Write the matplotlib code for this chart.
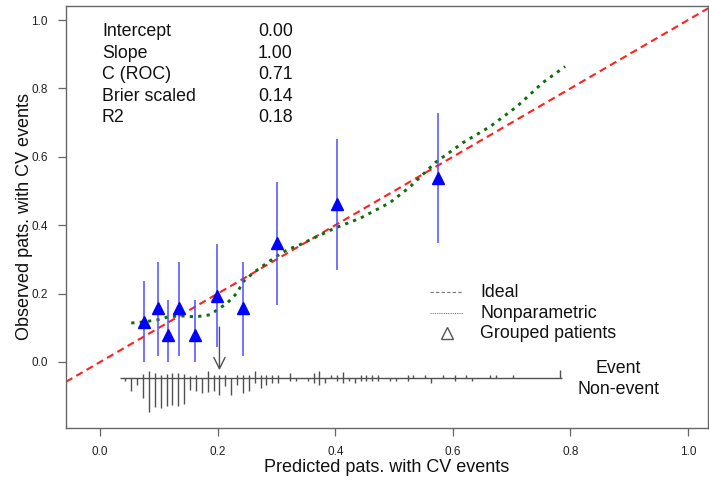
import matplotlib
matplotlib.use("Agg")
import matplotlib.pyplot as plt
import numpy as np

plt.rcParams['font.family'] = ['Liberation Sans', 'DejaVu Sans']

# ---- data ----
stat_names = ["Intercept", "Slope", "C (ROC)", "Brier scaled", "R2"]
stat_values = ["0.00", "1.00", "0.71", "0.14", "0.18"]

# grouped patients (triangles) with CI
grp_x = [0.075, 0.099, 0.116, 0.134, 0.161, 0.199, 0.243, 0.301, 0.403, 0.575]
grp_y = [0.117, 0.158, 0.079, 0.158, 0.079, 0.193, 0.158, 0.348, 0.463, 0.539]
grp_lo = [0.000, 0.018, 0.000, 0.018, 0.000, 0.044, 0.018, 0.167, 0.269, 0.348]
grp_hi = [0.237, 0.293, 0.180, 0.293, 0.180, 0.345, 0.293, 0.527, 0.653, 0.729]

# nonparametric calibration curve
np_x = [0.053, 0.073, 0.097, 0.116, 0.136, 0.162, 0.187, 0.199, 0.216, 0.233,
        0.243, 0.260, 0.284, 0.301, 0.318, 0.340, 0.357, 0.400, 0.442, 0.493,
        0.527, 0.570, 0.617, 0.663, 0.709, 0.753, 0.791]
np_y = [0.114, 0.117, 0.123, 0.132, 0.135, 0.132, 0.138, 0.152, 0.172, 0.202,
        0.234, 0.260, 0.290, 0.310, 0.328, 0.343, 0.357, 0.392, 0.420, 0.466,
        0.512, 0.583, 0.641, 0.688, 0.747, 0.817, 0.864]

# ideal line y = x
ideal_pt0 = (0.0, 0.0)
ideal_pt1 = (1.0, 1.0)

# spike histogram of predictions
spike_base = -0.047
spike_range = [0.034, 0.786]
ne_x = [0.043, 0.053, 0.063, 0.073, 0.083, 0.093, 0.103, 0.113, 0.123, 0.133,
        0.143, 0.153, 0.163, 0.173, 0.183, 0.193, 0.203, 0.213, 0.223, 0.233,
        0.243, 0.253, 0.263, 0.273, 0.283, 0.293, 0.303, 0.323, 0.333, 0.353,
        0.363, 0.373, 0.383, 0.403, 0.413, 0.423, 0.433, 0.443, 0.453, 0.463,
        0.473, 0.493, 0.503, 0.523, 0.563, 0.603, 0.633]
ne_h = [0.008, 0.037, 0.021, 0.059, 0.100, 0.085, 0.088, 0.082, 0.079, 0.082,
        0.076, 0.035, 0.038, 0.044, 0.041, 0.038, 0.050, 0.023, 0.050, 0.021,
        0.044, 0.038, 0.015, 0.029, 0.021, 0.015, 0.015, 0.009, 0.009, 0.009,
        0.015, 0.021, 0.015, 0.009, 0.015, 0.009, 0.015, 0.009, 0.009, 0.009,
        0.009, 0.009, 0.009, 0.009, 0.015, 0.009, 0.009]
ev_x = [0.073, 0.083, 0.093, 0.103, 0.113, 0.123, 0.133, 0.143, 0.153, 0.163,
        0.183, 0.193, 0.203, 0.213, 0.233, 0.243, 0.253, 0.263, 0.273, 0.283,
        0.293, 0.303, 0.323, 0.363, 0.373, 0.393, 0.403, 0.413, 0.443, 0.453,
        0.463, 0.473, 0.523, 0.533, 0.553, 0.583, 0.603, 0.623, 0.663, 0.673,
        0.703, 0.783]
ev_h = [0.012, 0.020, 0.015, 0.008, 0.012, 0.015, 0.015, 0.012, 0.005, 0.008,
        0.021, 0.008, 0.008, 0.008, 0.008, 0.008, 0.008, 0.021, 0.008, 0.008,
        0.008, 0.008, 0.015, 0.015, 0.021, 0.008, 0.008, 0.017, 0.008, 0.008,
        0.008, 0.008, 0.008, 0.008, 0.008, 0.008, 0.008, 0.008, 0.008, 0.008,
        0.008, 0.023]

arrow_x = 0.203
arrow_y = [0.102, -0.024]

ticks = [0.0, 0.2, 0.4, 0.6, 0.8, 1.0]
tick_labels = ["0.0", "0.2", "0.4", "0.6", "0.8", "1.0"]

# ---- figure ----
fig = plt.figure(figsize=(7.09, 4.80), dpi=100)
W, H = 709, 480
L, R, T, B = 66, 708, 6, 428
ax = fig.add_axes([L / W, 1 - B / H, (R - L) / W, (B - T) / H])
ax.set_xlim(-0.058, 1.034)
ax.set_ylim(-0.193, 1.041)

gray = '#505050'
for sp in ax.spines.values():
    sp.set_color('#666666')
    sp.set_linewidth(1.0)

ax.set_xticks(ticks)
ax.set_xticklabels(tick_labels)
ax.set_yticks(ticks)
ax.set_yticklabels(tick_labels)
ax.tick_params(direction='out', length=6, width=0.9, color='#666666',
               labelsize=8.5, labelcolor='#222222', pad=7)

ax.set_xlabel("Predicted pats. with CV events", fontsize=13, labelpad=1, color='#111111')
ax.set_ylabel("Observed pats. with CV events", fontsize=13, labelpad=-1, color='#111111')

# ideal line
ax.axline(ideal_pt0, ideal_pt1, color='#ff2020', lw=1.5, linestyle=(0, (3.5, 2.2)))

# nonparametric
ax.plot(np_x, np_y, color='#0a6e0a', lw=2.1, linestyle=(0, (1.1, 1.8)),
        solid_capstyle='butt', dash_capstyle='butt')

# grouped
ax.vlines(grp_x, grp_lo, grp_hi, color='#4d4dff', lw=1.1)
ax.plot(grp_x, grp_y, linestyle='none', marker='^', ms=8.5, color='#0000ff',
        markeredgecolor='#0000ff')

# spikes
ax.hlines(spike_base, spike_range[0], spike_range[1], color=gray, lw=1.0)
ax.vlines(ne_x, [spike_base - h for h in ne_h], spike_base, color=gray, lw=1.0)
ax.vlines(ev_x, spike_base, [spike_base + h for h in ev_h], color=gray, lw=1.0)

# arrow
ax.annotate('', xy=(arrow_x, arrow_y[1]), xytext=(arrow_x, arrow_y[0]),
            arrowprops=dict(arrowstyle='->', color=gray, lw=1.0,
                            mutation_scale=20, shrinkA=0, shrinkB=0))

# stats text
row_y = [0.940, 0.888, 0.838, 0.786, 0.736]
for name, val, yy in zip(stat_names, stat_values, row_y):
    ax.text(0.056, yy, name, transform=ax.transAxes, fontsize=12.8,
            va='center', ha='left', color='#111111')
    ax.text(0.299, yy, val, transform=ax.transAxes, fontsize=12.8,
            va='center', ha='left', color='#111111')

# legend (manual)
leg_y = [0.322, 0.2725, 0.225]
ax.plot([0.567, 0.618], [leg_y[0]] * 2, transform=ax.transAxes,
        color='#777777', lw=0.8, linestyle=(0, (3, 2)))
ax.plot([0.567, 0.618], [leg_y[1]] * 2, transform=ax.transAxes,
        color='#777777', lw=0.8, linestyle=(0, (1, 1)))
ax.plot([0.593], [leg_y[2]], transform=ax.transAxes, marker='^', ms=8,
        markerfacecolor='none', markeredgecolor='#555555', linestyle='none')
for lab, yy in zip(["Ideal", "Nonparametric", "Grouped patients"], leg_y):
    ax.text(0.645, yy, lab, transform=ax.transAxes, fontsize=12.8,
            va='center', ha='left', color='#111111')

ax.text(0.86, 0.14, "Event", transform=ax.transAxes, fontsize=12.8,
        va='center', ha='center', color='#111111')
ax.text(0.86, 0.0924, "Non-event", transform=ax.transAxes, fontsize=12.8,
        va='center', ha='center', color='#111111')

fig.savefig("out.png", dpi=100)
